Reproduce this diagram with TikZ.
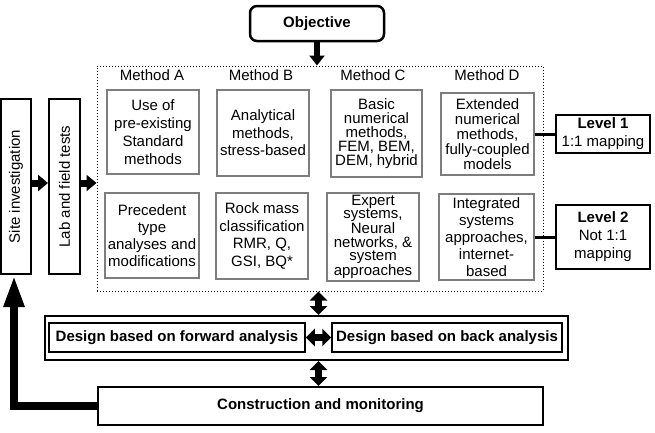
\documentclass[tikz,border=0pt]{standalone}
\usepackage{fontspec}
\setmainfont{Liberation Sans}
\usetikzlibrary{arrows.meta}
\definecolor{mgray}{RGB}{125,125,125}
\begin{document}
\begin{tikzpicture}[x=1pt,y=-1pt,
  every node/.style={font=\fontsize{15}{18}\selectfont, inner sep=0pt, align=center},
  mbox/.style 2 args={draw=mgray, line width=1.3pt, minimum width=#1, minimum height=#2},
  bbox/.style 2 args={draw=black, line width=2pt, minimum width=#1, minimum height=#2},
  fatarrow/.style={line width=7pt, -{Triangle[width=16pt,length=10pt]}},
  dblarrow/.style={line width=7pt, {Triangle[width=17pt,length=9pt]}-{Triangle[width=17pt,length=9pt]}},
  bigarrow/.style={line width=8pt, line join=miter, -{Triangle[width=19pt,length=32pt]}},
  levelline/.style={line width=3pt},
  lbl/.style={font=\fontsize{15}{18}\selectfont}
]
\useasboundingbox (0,0) rectangle (655,432);

% Objective
\node[draw, line width=2.5pt, rounded corners=7pt, minimum width=134pt, minimum height=35pt] (obj) at (317,23.5) {\textbf{Objective}};

% dotted methods frame
\node[draw, dotted, line width=1pt, minimum width=446pt, minimum height=225pt] (methods) at (320,178.5) {};

% method labels
\node[lbl] (la) at (152,75) {Method A};
\node[lbl] (lb) at (261,75) {Method B};
\node[lbl] (lc) at (373,75) {Method C};
\node[lbl] (ld) at (487,75) {Method D};

% row 1
\node[mbox={92pt}{84pt}, font=\fontsize{15}{18}\selectfont] (A1) at (153,132) {Use of\\pre-existing\\Standard\\methods};
\node[mbox={92pt}{86pt}, font=\fontsize{15}{17.5}\selectfont] (B1) at (263,133) {Analytical\\methods,\\stress-based};
\node[mbox={91pt}{87pt}, font=\fontsize{15}{14}\selectfont] (C1) at (376.5,133.5) {Basic\\numerical\\methods,\\FEM, BEM,\\DEM, hybrid};
\node[mbox={93pt}{82pt}, font=\fontsize{15}{15}\selectfont] (D1) at (487.5,134) {Extended\\numerical\\methods,\\fully-coupled\\models};

% row 2
\node[mbox={94pt}{85pt}, font=\fontsize{15}{17}\selectfont] (A2) at (152,235.5) {Precedent\\type\\analyses and\\modifications};
\node[mbox={92pt}{86pt}, font=\fontsize{15}{17.6}\selectfont] (B2) at (262,236) {Rock mass\\classification\\RMR, Q,\\GSI, BQ*};
\node[mbox={92pt}{88pt}, font=\fontsize{15}{13.5}\selectfont] (C2) at (373,237) {Expert\\systems,\\Neural\\networks, \&\\system\\approaches};
\node[mbox={95pt}{86pt}, font=\fontsize{15}{17}\selectfont] (D2) at (486.5,237) {Integrated\\systems\\approaches,\\internet-\\based};

% levels
\node[bbox={94pt}{38pt}] (L1) at (603,134) {\textbf{Level 1}\\1:1 mapping};
\node[bbox={94pt}{64pt}] (L2) at (603,237) {\textbf{Level 2}\\Not 1:1\\mapping};
\draw[levelline] (D1.east) -- (L1.west);
\draw[levelline] (D2.east) -- (L2.west);

% site and lab
\node[bbox={30pt}{175pt}] (site) at (16,186.5) {};
\node[rotate=90, lbl] (sitetxt) at (site.center) {Site investigation};
\node[bbox={31pt}{175pt}] (lab) at (64.5,186.5) {};
\node[rotate=90, lbl] (labtxt) at (lab.center) {Lab and field tests};
\coordinate (ay) at (0,183);
\draw[fatarrow] (site.east |- ay) -- (lab.west |- ay);
\draw[fatarrow] (lab.east |- ay) -- (methods.west |- ay);

% objective arrow
\draw[line width=6pt, -{Triangle[width=15pt,length=10pt]}] (obj.south) -- (obj.south |- methods.north);

% design
\node[bbox={523pt}{44pt}] (design) at (306.5,338) {};
\node[draw, line width=1.5pt, minimum width=256pt, minimum height=29pt] (fwd) at (177,337.5) {\textbf{Design based on forward analysis}};
\node[draw, line width=1.5pt, minimum width=230pt, minimum height=29pt] (back) at (447,337.5) {\textbf{Design based on back analysis}};
\draw[dblarrow] (fwd.east) -- (back.west);

% construction
\node[bbox={445pt}{38pt}] (cons) at (320.5,406) {\textbf{Construction and monitoring}};

\coordinate (vx) at (318.5,0);
\draw[dblarrow] (vx |- methods.south) -- (vx |- design.north);
\draw[dblarrow] (vx |- design.south) -- (vx |- cons.north);

% feedback
\coordinate (fbx) at (14,0);
\draw[bigarrow] (cons.west) -- (fbx |- cons.west) -- (fbx |- site.south);
\end{tikzpicture}
\end{document}
